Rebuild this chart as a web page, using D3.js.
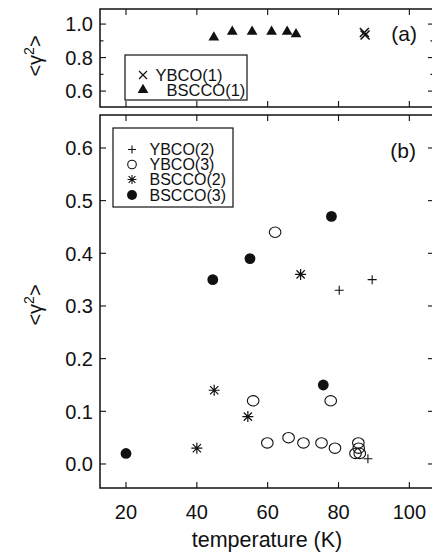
<!DOCTYPE html>
<html>
<head>
<meta charset="utf-8">
<script src="https://cdn.jsdelivr.net/npm/d3@7"></script>
<style>
  body { margin: 0; background: #fff; }
  svg { display: block; font-family: "Liberation Sans", Arial, Helvetica, sans-serif; }
</style>
</head>
<body>
<div id="chart"></div>
<script>
// ---- data ----
// panel (a)
var ybco1Temp = [87.3, 87.5];
var ybco1Val  = [0.95, 0.935];
var bscco1Temp = [44.8, 50.0, 55.6, 61.1, 65.5, 68.0];
var bscco1Val  = [0.92, 0.955, 0.955, 0.955, 0.955, 0.94];

// panel (b)
var ybco2Temp = [80.2, 89.5, 88.3];
var ybco2Val  = [0.33, 0.35, 0.01];
var ybco3Temp = [62.1, 55.9, 77.8, 59.9, 65.9, 70.1, 75.2, 79.0, 85.6, 85.7, 84.8, 86.0];
var ybco3Val  = [0.44, 0.12, 0.12, 0.04, 0.05, 0.04, 0.04, 0.03, 0.04, 0.03, 0.02, 0.02];
var bscco2Temp = [69.3, 40.0, 44.9, 54.4];
var bscco2Val  = [0.36, 0.03, 0.14, 0.09];
var bscco3Temp = [44.5, 55.0, 78.0, 20.0, 75.7];
var bscco3Val  = [0.35, 0.39, 0.47, 0.02, 0.15];

var xTicks = [20, 40, 60, 80, 100];
var yTicksA = [0.6, 0.8, 1.0];
var yMinorA = [0.7, 0.9];
var yTicksB = [0.0, 0.1, 0.2, 0.3, 0.4, 0.5, 0.6];

var legendA = ["YBCO(1)", "BSCCO(1)"];
var legendB = ["YBCO(2)", "YBCO(3)", "BSCCO(2)", "BSCCO(3)"];

// ---- layout ----
var W = 432, H = 556;
var ink = "#111";

var svg = d3.select("#chart").append("svg")
  .attr("width", W).attr("height", H);

var x = d3.scaleLinear().domain([12.66, 106.96]).range([100, 434]);
var yA = d3.scaleLinear().domain([0.505, 1.09]).range([107, 9]);
var yB = d3.scaleLinear().domain([-0.0456, 0.6626]).range([488, 115]);

// marker shapes (relative to centre)
function plusPath(s) { return "M" + (-s) + ",0H" + s + "M0," + (-s) + "V" + s; }
function timesPath(s) { return "M" + (-s) + "," + (-s) + "L" + s + "," + s + "M" + (-s) + "," + s + "L" + s + "," + (-s); }
function asteriskPath(s) {
  var d = s * 0.75;
  return plusPath(s) + timesPath(d);
}
var triPath = d3.symbol().type(d3.symbolTriangle).size(50)();

function zip(t, v) { return t.map(function(d, i) { return {t: d, v: v[i]}; }); }

function drawFrame(g, y, x0, x1, yTicks, yMinor) {
  var y0 = y.range()[0], y1 = y.range()[1];
  g.append("rect")
    .attr("x", x0).attr("y", y1)
    .attr("width", x1 - x0).attr("height", y0 - y1)
    .attr("fill", "none").attr("stroke", ink).attr("stroke-width", 1.5);

  // x ticks top and bottom, inward
  xTicks.forEach(function(t) {
    g.append("line").attr("x1", x(t)).attr("x2", x(t)).attr("y1", y0).attr("y2", y0 - 6)
      .attr("stroke", ink).attr("stroke-width", 1.1);
    g.append("line").attr("x1", x(t)).attr("x2", x(t)).attr("y1", y1).attr("y2", y1 + 6)
      .attr("stroke", ink).attr("stroke-width", 1.1);
  });
  // y ticks left and right
  yTicks.forEach(function(v) {
    g.append("line").attr("x1", x0).attr("x2", x0 + 6).attr("y1", y(v)).attr("y2", y(v))
      .attr("stroke", ink).attr("stroke-width", 1.1);
    g.append("line").attr("x1", x1).attr("x2", x1 - 6).attr("y1", y(v)).attr("y2", y(v))
      .attr("stroke", ink).attr("stroke-width", 1.1);
    g.append("text").attr("x", 93).attr("y", y(v)).attr("dy", "0.36em")
      .attr("text-anchor", "end").attr("font-size", 20).attr("fill", ink)
      .text(d3.format(".1f")(v));
  });
  (yMinor || []).forEach(function(v) {
    g.append("line").attr("x1", x0).attr("x2", x0 + 3.5).attr("y1", y(v)).attr("y2", y(v))
      .attr("stroke", ink).attr("stroke-width", 1.1);
    g.append("line").attr("x1", x1).attr("x2", x1 - 3.5).attr("y1", y(v)).attr("y2", y(v))
      .attr("stroke", ink).attr("stroke-width", 1.1);
  });
}

function yLabel(g, cy) {
  var t = g.append("text")
    .attr("transform", "translate(42," + cy + ") rotate(-90)")
    .attr("text-anchor", "middle").attr("font-size", 20).attr("fill", ink);
  t.append("tspan").text("<\u03b3");
  t.append("tspan").attr("dy", -8).attr("font-size", 14).text("2");
  t.append("tspan").attr("dy", 8).text(">");
}

// ---- panel (a) ----
var gA = svg.append("g");
drawFrame(gA, yA, 100, 434, yTicksA, yMinorA);
yLabel(gA, 56);

gA.selectAll(".tri").data(zip(bscco1Temp, bscco1Val)).enter().append("path")
  .attr("d", triPath)
  .attr("transform", function(d) { return "translate(" + x(d.t) + "," + yA(d.v) + ")"; })
  .attr("fill", ink);
gA.selectAll(".xm").data(zip(ybco1Temp, ybco1Val)).enter().append("path")
  .attr("d", timesPath(4.5))
  .attr("transform", function(d) { return "translate(" + x(d.t) + "," + yA(d.v) + ")"; })
  .attr("fill", "none").attr("stroke", ink).attr("stroke-width", 1.6);

gA.append("text").attr("x", 417).attr("y", 33).attr("dy", "0.36em")
  .attr("text-anchor", "end").attr("font-size", 21).attr("fill", ink).text("(a)");

// legend (a)
gA.append("rect").attr("x", 125).attr("y", 55).attr("width", 122).attr("height", 45)
  .attr("fill", "#fff").attr("stroke", ink).attr("stroke-width", 1.2);
gA.append("path").attr("d", timesPath(4)).attr("transform", "translate(143,75)")
  .attr("fill", "none").attr("stroke", ink).attr("stroke-width", 1.2);
gA.append("path").attr("d", triPath).attr("transform", "translate(143,90)").attr("fill", ink);
gA.append("text").attr("x", 155.5).attr("y", 75).attr("dy", "0.36em")
  .attr("font-size", 16.5).attr("fill", ink).text(legendA[0]);
gA.append("text").attr("x", 166.5).attr("y", 90).attr("dy", "0.36em")
  .attr("font-size", 16.5).attr("fill", ink).text(legendA[1]);

// ---- panel (b) ----
var gB = svg.append("g");
drawFrame(gB, yB, 100, 434, yTicksB);
yLabel(gB, 305);

xTicks.forEach(function(t) {
  gB.append("text").attr("x", x(t)).attr("y", 519)
    .attr("text-anchor", "middle").attr("font-size", 20).attr("fill", ink).text(t);
});
gB.append("text").attr("x", 267).attr("y", 547)
  .attr("text-anchor", "middle").attr("font-size", 21.5).attr("fill", ink).text("temperature (K)");

gB.append("text").attr("x", 416).attr("y", 150).attr("dy", "0.36em")
  .attr("text-anchor", "end").attr("font-size", 21).attr("fill", ink).text("(b)");

function place(y) { return function(d) { return "translate(" + x(d.t) + "," + y(d.v) + ")"; }; }

gB.selectAll(".oc").data(zip(ybco3Temp, ybco3Val)).enter().append("ellipse")
  .attr("cx", function(d) { return x(d.t); }).attr("cy", function(d) { return yB(d.v); })
  .attr("rx", 5.8).attr("ry", 5.2)
  .attr("fill", "none").attr("stroke", ink).attr("stroke-width", 1.1);
gB.selectAll(".fc").data(zip(bscco3Temp, bscco3Val)).enter().append("circle")
  .attr("cx", function(d) { return x(d.t); }).attr("cy", function(d) { return yB(d.v); })
  .attr("r", 5.4).attr("fill", ink);
gB.selectAll(".ast").data(zip(bscco2Temp, bscco2Val)).enter().append("path")
  .attr("d", asteriskPath(5.5)).attr("transform", place(yB))
  .attr("fill", "none").attr("stroke", ink).attr("stroke-width", 1.2);
gB.selectAll(".pl").data(zip(ybco2Temp, ybco2Val)).enter().append("path")
  .attr("d", plusPath(4.5)).attr("transform", place(yB))
  .attr("fill", "none").attr("stroke", ink).attr("stroke-width", 1.1);

// legend (b)
gB.append("rect").attr("x", 113).attr("y", 128).attr("width", 120).attr("height", 79)
  .attr("fill", "#fff").attr("stroke", ink).attr("stroke-width", 1.2);
var rowY = [149.5, 164.5, 179.5, 195];
gB.append("path").attr("d", plusPath(4)).attr("transform", "translate(132," + rowY[0] + ")")
  .attr("fill", "none").attr("stroke", ink).attr("stroke-width", 1.1);
gB.append("circle").attr("cx", 132).attr("cy", rowY[1]).attr("r", 4.3)
  .attr("fill", "none").attr("stroke", ink).attr("stroke-width", 1.1);
gB.append("path").attr("d", asteriskPath(4.5)).attr("transform", "translate(132," + rowY[2] + ")")
  .attr("fill", "none").attr("stroke", ink).attr("stroke-width", 1.1);
gB.append("circle").attr("cx", 132).attr("cy", rowY[3]).attr("r", 5).attr("fill", ink);
legendB.forEach(function(s, i) {
  gB.append("text").attr("x", 149.5).attr("y", rowY[i]).attr("dy", "0.36em")
    .attr("font-size", 16).attr("fill", ink).text(s);
});
</script>
</body>
</html>
